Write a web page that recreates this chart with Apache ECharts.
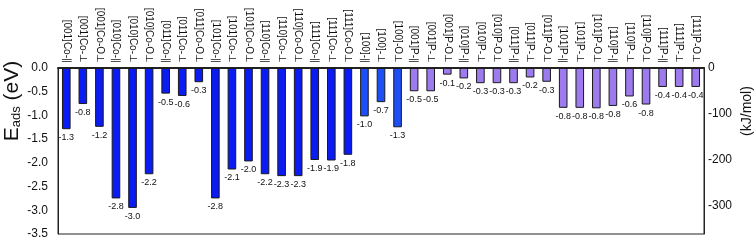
<!DOCTYPE html>
<html>
<head>
<meta charset="utf-8">
<script src="https://cdn.jsdelivr.net/npm/echarts@6/dist/echarts.min.js"></script>
<style>
  html, body { margin: 0; padding: 0; background: #fff; }
  #chart { width: 756px; height: 240px; }
</style>
</head>
<body>
<div id="chart"></div>
<script>
// categories (top axis)
const categories = [
  '[001]Co-∥', '[001]Co-⊥', '[001]Co-O⊥',
  '[010]Co-∥', '[010]Co-⊥', '[010]Co-O⊥',
  '[011]Co-∥', '[011]Co-⊥', '[011]Co-O⊥',
  '[101]Co-∥', '[101]Co-⊥', '[101]Co-O⊥',
  '[110]Co-∥', '[110]Co-⊥', '[110]Co-O⊥',
  '[111]Co-∥', '[111]Co-⊥', '[111]Co-O⊥',
  '[100]-∥', '[100]-⊥', '[100]-O⊥',
  '[001]P-∥', '[001]P-⊥', '[001]P-O⊥',
  '[010]P-∥', '[010]P-⊥', '[010]P-O⊥',
  '[011]P-∥', '[011]P-⊥', '[011]P-O⊥',
  '[101]P-∥', '[101]P-⊥', '[101]P-O⊥',
  '[110]P-∥', '[110]P-⊥', '[110]P-O⊥',
  '[111]P-∥', '[111]P-⊥', '[111]P-O⊥'
];

// adsorption energies (eV)
const coValues = [
  -1.29, -0.76, -1.24,
  -2.75, -2.95, -2.24,
  -0.54, -0.59, -0.30,
  -2.75, -2.14, -1.97,
  -2.24, -2.28, -2.28,
  -1.94, -1.95, -1.83
];
const bareValues = [-1.02, -0.72, -1.25];
const pValues = [
  -0.49, -0.49, -0.14,
  -0.22, -0.32, -0.32,
  -0.32, -0.20, -0.29,
  -0.84, -0.84, -0.85,
  -0.80, -0.60, -0.77,
  -0.40, -0.40, -0.40
];

const eTicks = [0, -0.5, -1.0, -1.5, -2.0, -2.5, -3.0, -3.5];
const kjTicks = [0, -100, -200, -300];

const allValues = coValues.concat(bareValues, pValues);

const chart = echarts.init(document.getElementById('chart'));

const fontFamily = 'Liberation Sans, Arial, sans-serif';

function barColor(i) {
  if (i < coValues.length) return '#0a1cf2';
  if (i < coValues.length + bareValues.length) return '#1e4ff6';
  return '#9d7bef';
}

const option = {
  backgroundColor: '#ffffff',
  animation: false,
  textStyle: { fontFamily: fontFamily },
  grid: {
    left: 58,
    right: 52,
    top: 68,
    bottom: 6,
    show: true,
    borderColor: '#222',
    borderWidth: 1,
    backgroundColor: 'transparent'
  },
  xAxis: {
    type: 'category',
    position: 'top',
    data: categories,
    axisLine: { onZero: false, lineStyle: { color: '#222', width: 2 } },
    axisTick: { show: false },
    axisLabel: {
      interval: 0,
      rotate: 90,
      margin: 5,
      fontSize: 10,
      color: '#111',
      fontFamily: fontFamily
    }
  },
  yAxis: [
    {
      type: 'value',
      min: -3.5,
      max: 0,
      interval: 0.5,
      axisLine: { show: true, lineStyle: { color: '#222', width: 1 } },
      axisTick: { show: false },
      splitLine: { show: false },
      axisLabel: {
        margin: 10,
        fontSize: 12,
        color: '#111',
        formatter: v => v.toFixed(1)
      }
    },
    {
      type: 'value',
      position: 'right',
      min: -363,
      max: 0,
      axisLine: { show: true, lineStyle: { color: '#222', width: 1 } },
      axisTick: { show: false },
      splitLine: { show: false },
      axisLabel: {
        margin: 4,
        fontSize: 12,
        color: '#111',
        customValues: kjTicks
      }
    }
  ],
  graphic: [
    {
      type: 'text',
      x: 12,
      y: 101,
      rotation: Math.PI / 2,
      style: {
        text: '{e|E}{s|ads}{e| (eV)}',
        textAlign: 'center',
        textVerticalAlign: 'middle',
        fill: '#111',
        rich: {
          e: { fontSize: 21, fontFamily: fontFamily, fill: '#111' },
          s: { fontSize: 13, fontFamily: fontFamily, fill: '#111', verticalAlign: 'bottom', padding: [8, 0, 0, 0] }
        }
      }
    },
    {
      type: 'text',
      x: 747,
      y: 111,
      rotation: Math.PI / 2,
      style: {
        text: '(kJ/mol)',
        textAlign: 'center',
        textVerticalAlign: 'middle',
        fontSize: 14,
        fontFamily: fontFamily,
        fill: '#111'
      }
    }
  ],
  series: [
    {
      type: 'bar',
      yAxisIndex: 0,
      data: allValues,
      barWidth: '52%',
      itemStyle: {
        color: p => barColor(p.dataIndex),
        borderColor: '#1a1a1a',
        borderWidth: 1
      },
      label: {
        show: true,
        position: 'bottom',
        distance: 4,
        fontSize: 9,
        color: '#111',
        formatter: p => p.value.toFixed(1)
      }
    }
  ]
};

chart.setOption(option);
</script>
</body>
</html>
